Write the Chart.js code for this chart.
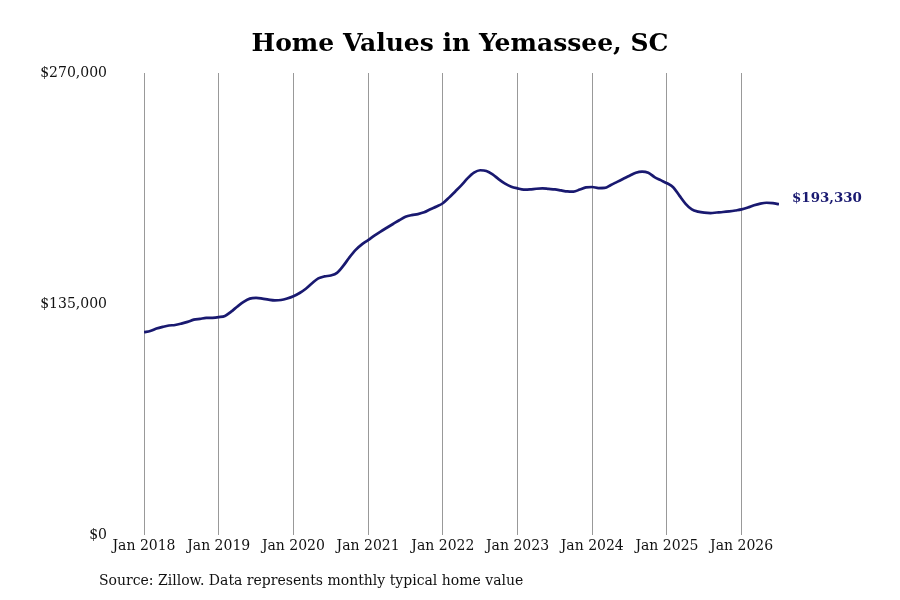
<!DOCTYPE html>
<html>
<head>
<meta charset="utf-8">
<script src="https://cdn.jsdelivr.net/npm/chart.js@4.4.1/dist/chart.umd.min.js"></script>
<style>
html,body{margin:0;padding:0;background:#fff;}
canvas{display:block;}
</style>
</head>
<body>
<canvas id="c" width="900" height="600"></canvas>
<script>
// Monthly typical home value, Jan 2018 – Jul 2026
const months = [];
const startYear = 2018;
const values = [
  // 2018
  118600,119300,120700,121700,122500,122800,123600,124600,125900,126400,126900,127000,
  // 2019
  127400,128100,130600,133600,136300,138200,138600,138200,137600,137200,137400,138300,
  // 2020
  139600,141500,144000,147200,150000,151200,151700,153200,157300,162300,166700,169900,
  // 2021
  172400,175000,177400,179600,181800,184000,186000,187000,187600,188600,190400,192000,
  // 2022
  193900,197200,200800,204500,208600,211800,213200,212800,210800,207900,205400,203600,
  // 2023
  202600,201900,202000,202400,202600,202300,202000,201400,200800,200700,201900,203200,
  // 2024
  203400,202800,202900,204600,206400,208200,210000,211700,212400,211700,209200,207400,
  // 2025
  205600,203300,198400,193600,190300,189000,188400,188200,188500,188800,189200,189700,
  // 2026
  190300,191400,192700,193700,194200,194000,193330
];
const monthNames = ['Jan','Feb','Mar','Apr','May','Jun','Jul','Aug','Sep','Oct','Nov','Dec'];
for (let i = 0; i < values.length; i++) {
  months.push(monthNames[i % 12] + ' ' + (startYear + Math.floor(i / 12)));
}
const xTickLabels = ['Jan 2018','Jan 2019','Jan 2020','Jan 2021','Jan 2022','Jan 2023','Jan 2024','Jan 2025','Jan 2026'];
const yTickValues = [0, 135000, 270000];
const titleText = 'Home Values in Yemassee, SC';
const lastLabel = '$193,330';
const sourceText = 'Source: Zillow. Data represents monthly typical home value';

const lineColor = '#191970';
const serif = "'DejaVu Serif', serif";

const points = values.map((v, i) => ({ x: i, y: v }));

const textPlugin = {
  id: 'texts',
  afterDatasetsDraw(chart) {
    const meta = chart.getDatasetMeta(0);
    const pt = meta.data[meta.data.length - 1];
    const ctx = chart.ctx;
    ctx.save();
    ctx.font = "bold 13.4px " + serif;
    ctx.fillStyle = lineColor;
    ctx.textAlign = 'left';
    ctx.textBaseline = 'middle';
    ctx.fillText(lastLabel, pt.x + 13, pt.y - 6);
    ctx.restore();
  },
  afterDraw(chart) {
    const ctx = chart.ctx;
    ctx.save();
    ctx.fillStyle = '#000';
    ctx.textBaseline = 'middle';
    ctx.textAlign = 'center';
    ctx.font = "bold 25px " + serif;
    ctx.fillText(titleText, chart.width / 2 + 10, 44);
    ctx.font = "14px " + serif;
    ctx.fillStyle = '#111';
    ctx.textAlign = 'left';
    ctx.fillText(sourceText, 99, 581);
    ctx.restore();
  }
};

new Chart(document.getElementById('c'), {
  type: 'line',
  data: {
    datasets: [{
      data: points,
      borderColor: lineColor,
      borderWidth: 2.7,
      pointRadius: 0,
      tension: 0.4,
      cubicInterpolationMode: 'monotone',
      fill: false
    }]
  },
  options: {
    responsive: false,
    animation: false,
    devicePixelRatio: 1,
    layout: { padding: { left: 0, right: 121, top: 73, bottom: 42 } },
    plugins: {
      legend: { display: false },
      tooltip: { enabled: false },
      title: { display: false }
    },
    scales: {
      x: {
        type: 'linear',
        min: 0,
        max: values.length - 1,
        afterBuildTicks(scale) {
          scale.ticks = xTickLabels.map((_, i) => ({ value: i * 12 }));
        },
        ticks: {
          autoSkip: false,
          maxRotation: 0,
          padding: 3,
          color: '#111',
          font: { family: serif, size: 14 },
          callback(v) { return xTickLabels[Math.round(v / 12)]; }
        },
        grid: { color: '#999', lineWidth: 1, drawTicks: false },
        border: { display: false }
      },
      y: {
        min: 0,
        max: 270000,
        afterBuildTicks(scale) {
          scale.ticks = yTickValues.map(v => ({ value: v }));
        },
        afterFit(scale) { scale.width = 144; },
        ticks: {
          padding: 37,
          color: '#111',
          font: { family: serif, size: 14 },
          callback(v) { return '$' + Number(v).toLocaleString('en-US'); }
        },
        grid: { display: false, drawTicks: false },
        border: { display: false }
      }
    }
  },
  plugins: [textPlugin]
});
</script>
</body>
</html>
